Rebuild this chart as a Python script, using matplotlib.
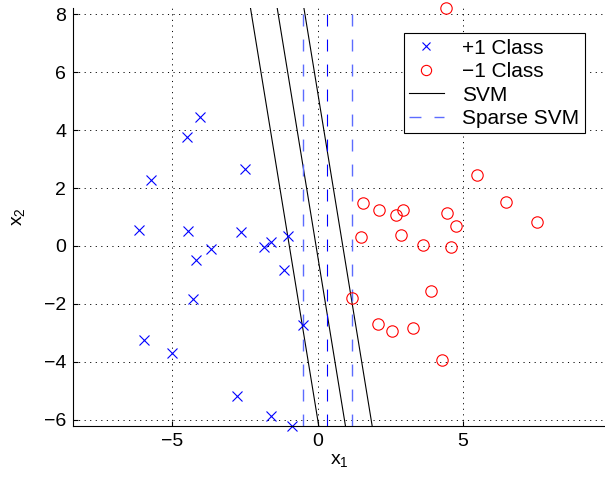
import numpy as np
import matplotlib
matplotlib.use("Agg")
import matplotlib.pyplot as plt

plt.rcParams['font.family'] = ['Liberation Sans', 'DejaVu Sans']
plt.rcParams['mathtext.fontset'] = 'custom'
plt.rcParams['mathtext.rm'] = 'Liberation Sans'
plt.rcParams['mathtext.it'] = 'Liberation Sans'
plt.rcParams['mathtext.default'] = 'regular'
plt.rcParams['lines.scale_dashes'] = False

# +1 class samples
pos_x1 = [-4.05, -4.48, -2.51, -5.72, -6.15, -4.45, -2.62, -1.00, -1.61, -1.84,
          -3.66, -4.18, -1.16, -4.30, -5.97, -5.02, -0.51, -2.76, -1.60, -0.88]
pos_x2 = [4.46, 3.77, 2.64, 2.28, 0.54, 0.52, 0.48, 0.34, 0.15, -0.02,
          -0.10, -0.49, -0.84, -1.82, -3.24, -3.70, -2.73, -5.17, -5.86, -6.21]

# -1 class samples
neg_x1 = [4.41, 5.48, 1.56, 6.49, 2.12, 2.93, 2.69, 4.47, 7.55, 4.78,
          1.49, 2.86, 3.63, 4.60, 3.92, 1.18, 2.09, 2.58, 3.30, 4.29]
neg_x2 = [8.20, 2.44, 1.49, 1.52, 1.23, 1.25, 1.07, 1.15, 0.83, 0.69,
          0.31, 0.39, 0.05, -0.05, -1.54, -1.80, -2.69, -2.95, -2.84, -3.93]

# SVM: x1 = c - slope * x2 for the margin/boundary lines
svm_c = [-0.97, -0.05, 0.87]
svm_slope = 0.163
# sparse SVM: vertical lines x1 = const
sparse_c = [-0.51, 0.33, 1.18]

xlim = (-8.42, 9.90)
ylim = (-6.2, 8.21)

fig = plt.figure(figsize=(6.05, 4.79), dpi=100)
ax = fig.add_axes([73 / 605, (479 - 425.7) / 479, 532 / 605, (425.7 - 8) / 479])

yy = np.array(ylim)
h_svm = None
for c in svm_c:
    h_svm, = ax.plot(c - svm_slope * yy, yy, color='black', lw=0.8)

h_sp = None
for i, c in enumerate(sparse_c):
    col = '#0000ff' if i == 1 else '#5c6cff'
    h, = ax.plot([c, c], [ylim[0], 8.0], color=col, lw=1.0 if i != 1 else 0.8,
                 dashes=(8.6, 9.4))
    if i == 0:
        h_sp = h

h_pos, = ax.plot(pos_x1, pos_x2, 'x', color='#0000ff', ms=6.5, mew=0.8,
                 linestyle='none', clip_on=False)
h_neg, = ax.plot(neg_x1, neg_x2, 'o', mfc='none', mec='#ff0000', ms=8.2, mew=0.8,
                 linestyle='none', clip_on=False)

ax.set_xlim(xlim)
ax.set_ylim(ylim)
ax.set_xticks([-5, 0, 5])
ax.set_yticks([-6, -4, -2, 0, 2, 4, 6, 8])
ax.set_xticklabels(['\u22125', '0', '5'])
ax.set_yticklabels(['\u22126', '\u22124', '\u22122', '0', '2', '4', '6', '8'])
ax.tick_params(direction='in', length=3.5, width=0.8, labelsize=14, pad=5)
ax.grid(True, color='black', linestyle=(0, (0.8, 3.2)), lw=0.7)
ax.set_axisbelow(True)
for s in ['top', 'right']:
    ax.spines[s].set_visible(False)
for s in ['left', 'bottom']:
    ax.spines[s].set_linewidth(0.8)

ax.set_xlabel('x$_1$', fontsize=14, labelpad=2)
ax.set_ylabel('x$_2$', fontsize=14, labelpad=12)

leg = ax.legend([h_pos, h_neg, h_svm, h_sp],
                ['+1 Class', '\u22121 Class', 'SVM', 'Sparse SVM'],
                loc='upper left', bbox_to_anchor=((404 - 73) / 532, (425.7 - 33.3) / 417.7),
                borderaxespad=0, fontsize=15, fancybox=False, framealpha=1,
                edgecolor='black', handlelength=1.65, handletextpad=0.9,
                labelspacing=0.22, borderpad=0.25, markerscale=0.9)
leg.get_frame().set_linewidth(0.8)

fig.savefig('out.png', dpi=100)
